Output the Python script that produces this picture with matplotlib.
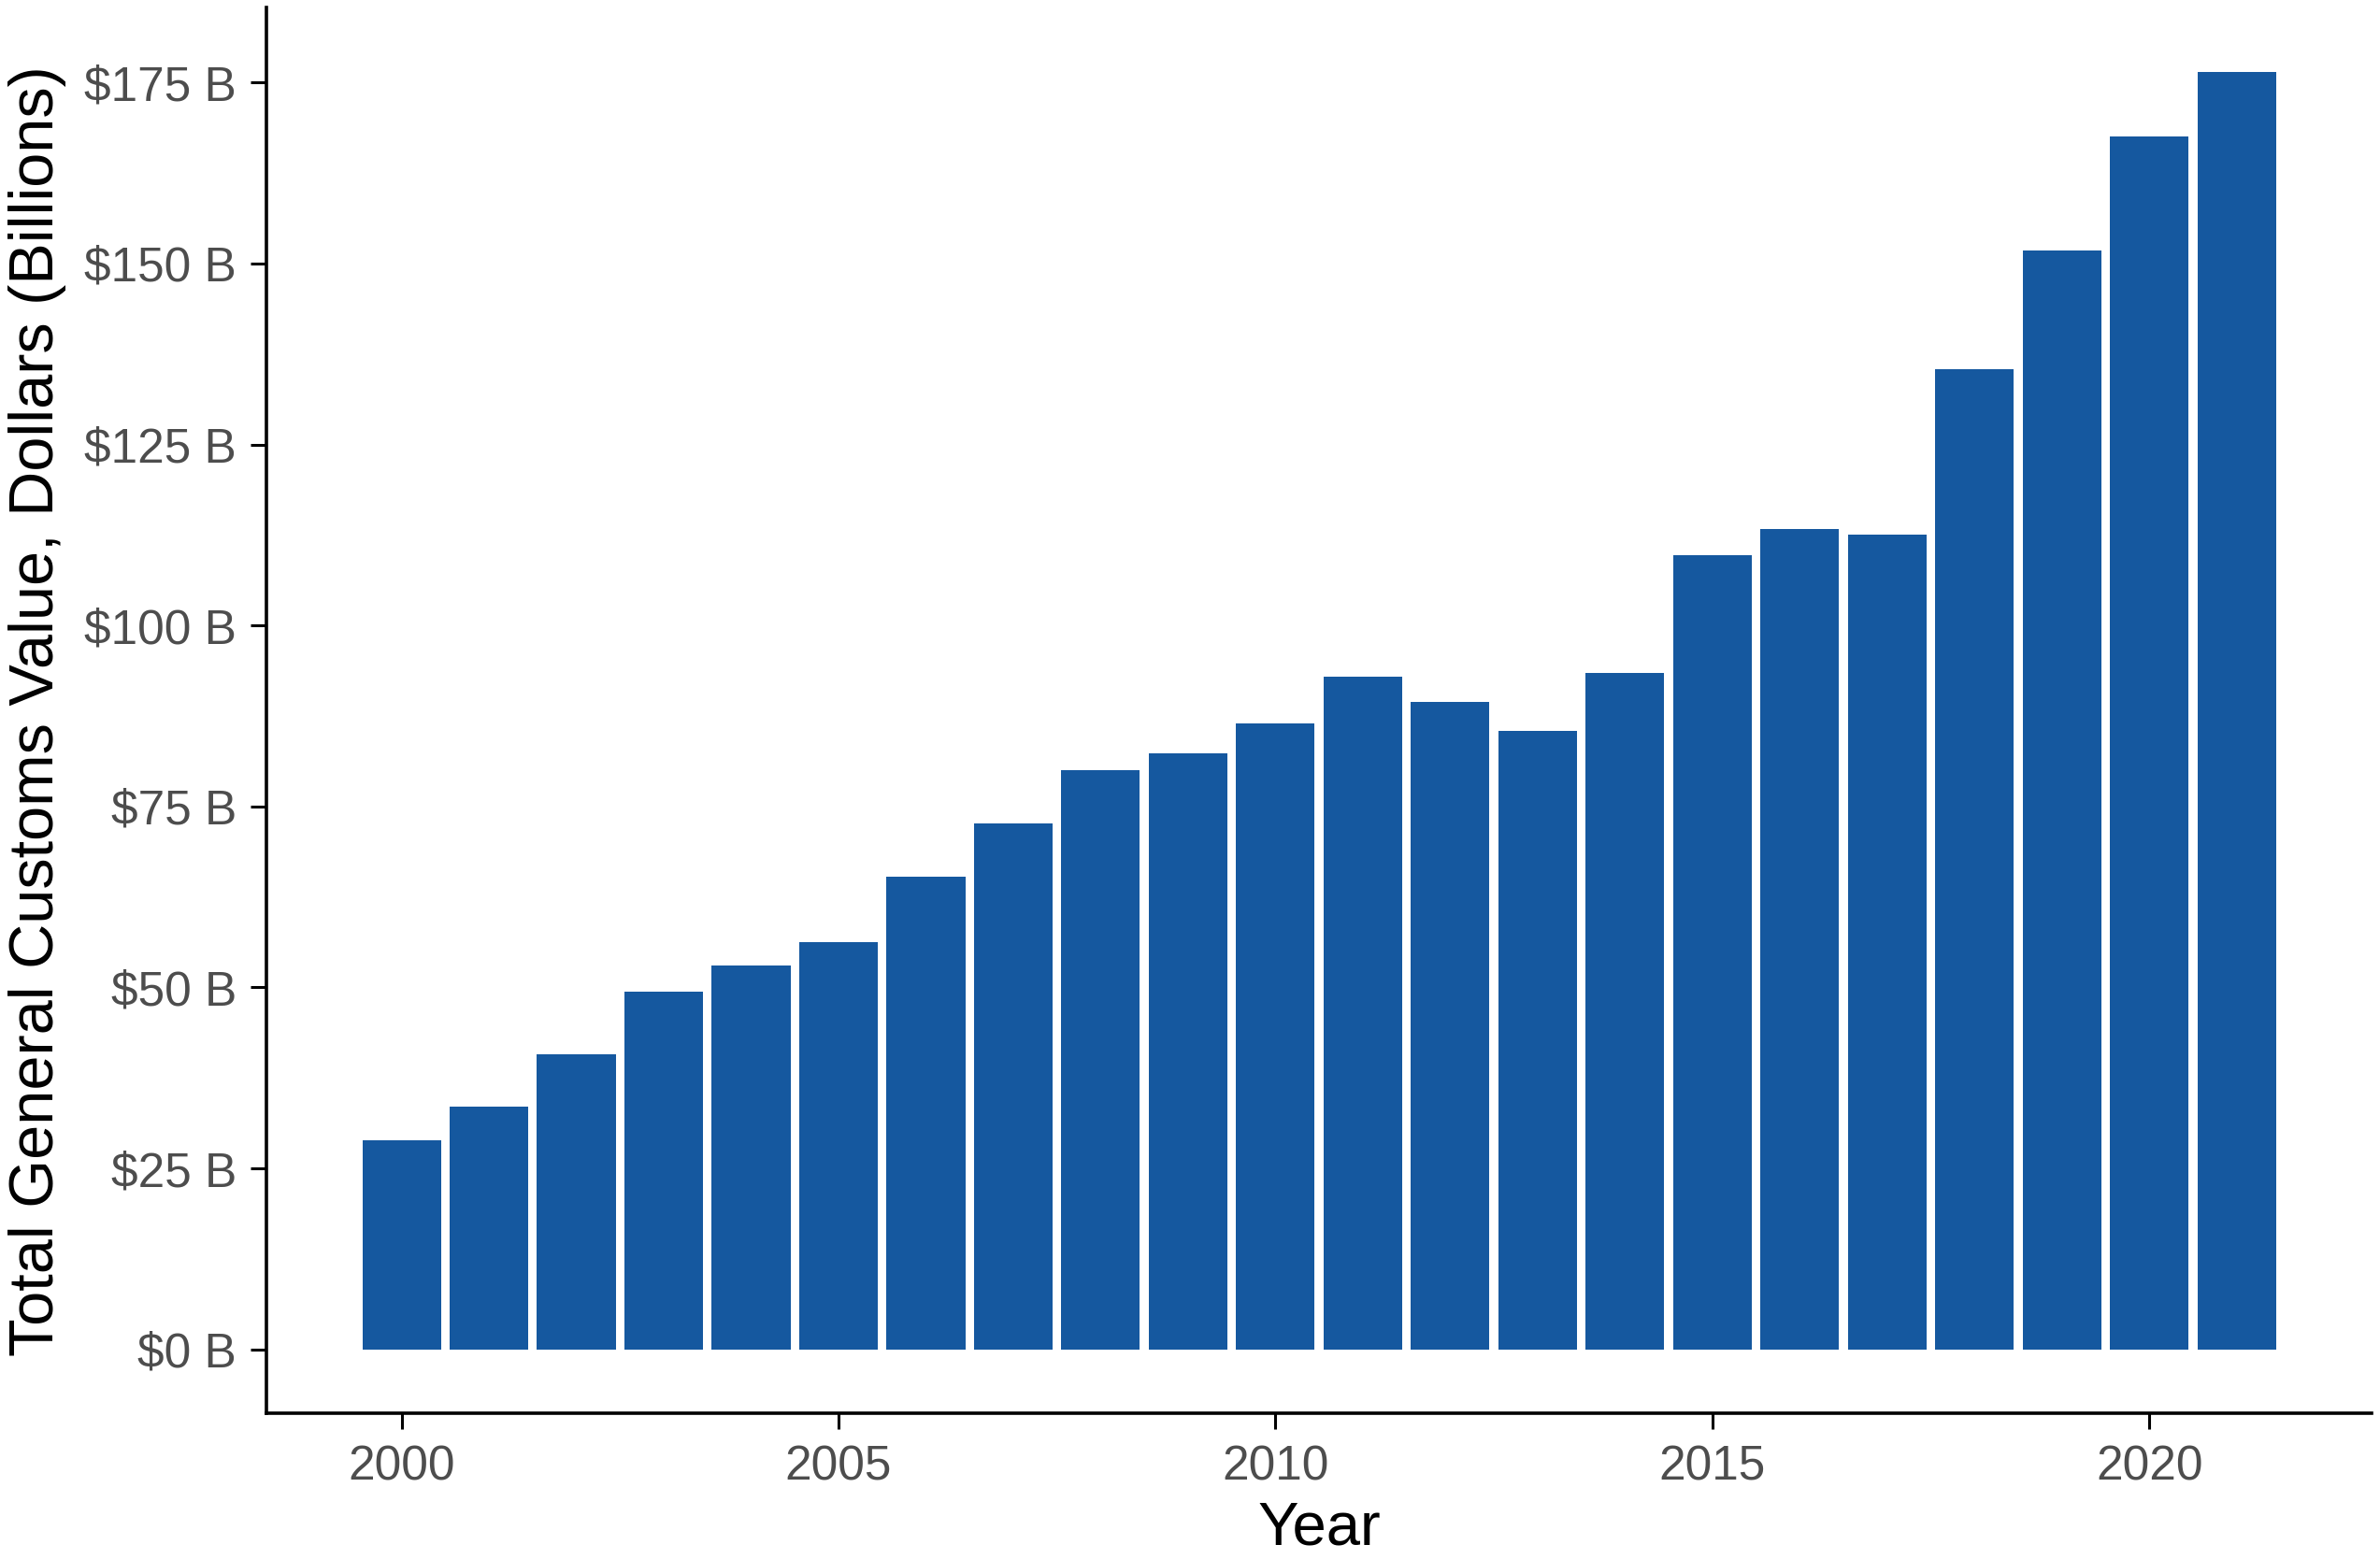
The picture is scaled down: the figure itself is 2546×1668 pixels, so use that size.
import numpy as np
import matplotlib.pyplot as plt
from matplotlib.ticker import FuncFormatter

plt.rcParams['font.family'] = ['Liberation Sans', 'DejaVu Sans']

# values (billions of dollars)
years = np.arange(2000, 2022)
values = [28.9, 33.5, 40.8, 49.4, 53.0, 56.3, 65.3, 72.6, 80.0, 82.3, 86.5,
          92.9, 89.4, 85.4, 93.4, 109.7, 113.3, 112.6, 135.4, 151.8, 167.5, 176.5]
yticks = [0, 25, 50, 75, 100, 125, 150, 175]
xticks = [2000, 2005, 2010, 2015, 2020]

fig = plt.figure(figsize=(25.46, 16.68), dpi=100)
ax = fig.add_axes([0.112, 0.0935, 0.8845, 0.9015])

ax.bar(years, values, width=0.9, color='#15589F')

# ggplot-style 5% expansion
span = years[-1] - years[0] + 0.9
ax.set_xlim(years[0] - 0.45 - 0.05 * span, years[-1] + 0.45 + 0.05 * span)
ax.set_ylim(-0.05 * max(values), max(values) * 1.05)

ax.set_yticks(yticks)
ax.yaxis.set_major_formatter(FuncFormatter(lambda v, p: '$%d B' % v))
ax.set_xticks(xticks)

for s in ['top', 'right']:
    ax.spines[s].set_visible(False)
for s in ['left', 'bottom']:
    ax.spines[s].set_linewidth(2.6)
ax.tick_params(axis='both', length=12, width=2.2, labelsize=37, labelcolor='#4D4D4D')
ax.tick_params(axis='y', pad=11)
ax.tick_params(axis='x', pad=12)

ax.set_xlabel('Year', fontsize=47)
ax.xaxis.label.set_verticalalignment('baseline')
ax.xaxis.set_label_coords(0.5, -0.0935)

ax.set_ylabel('Total General Customs Value, Dollars (Billions)', fontsize=48)
ax.yaxis.label.set_verticalalignment('center')
ax.yaxis.set_label_coords(-0.109, 0.5)

fig.savefig('out.png', dpi=100)
